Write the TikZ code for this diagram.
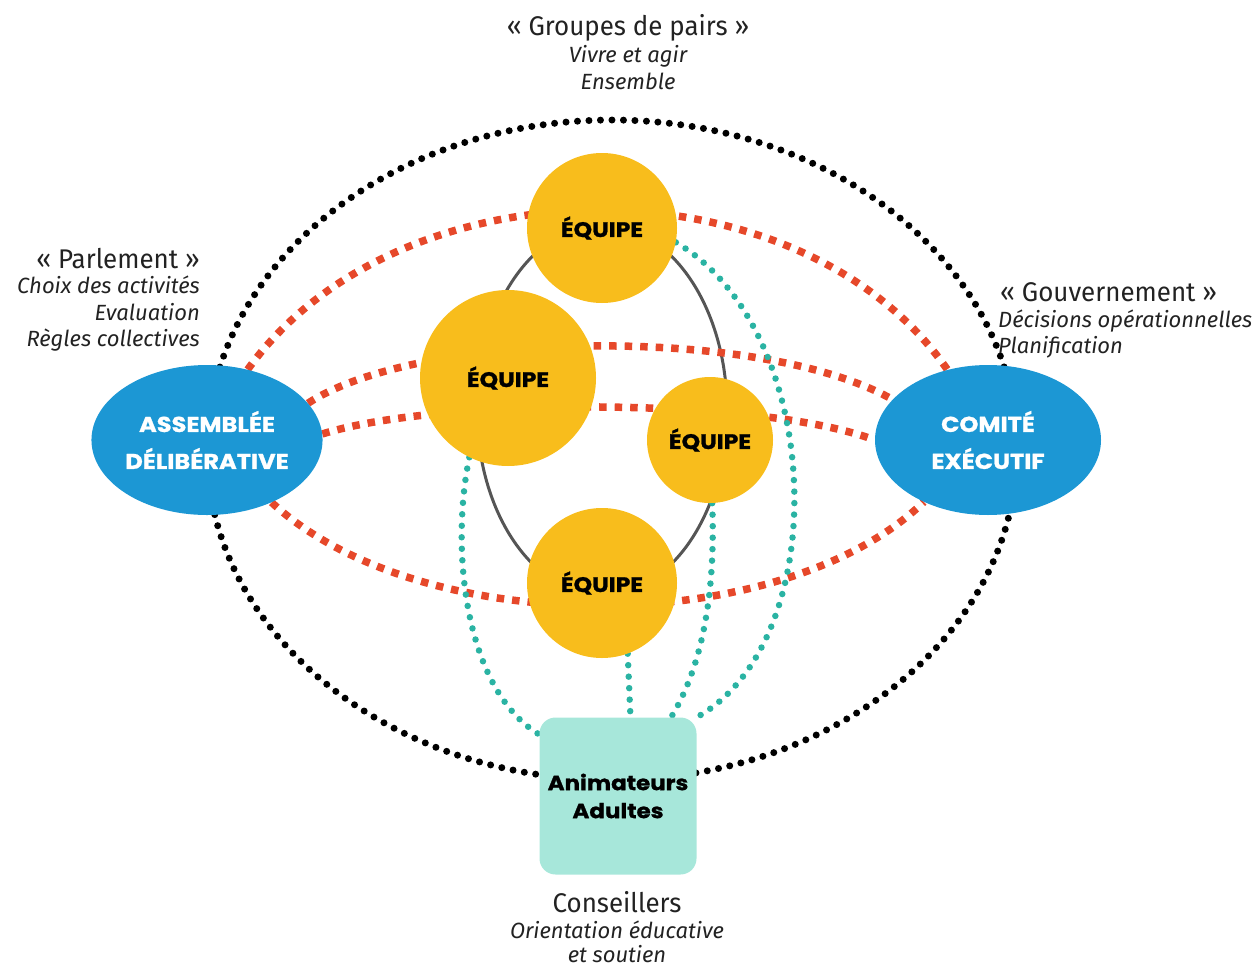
\documentclass[tikz,border=0pt]{standalone}
\usepackage{fontspec}
\setmainfont{Fira Sans}
\newfontfamily\lab{Fira Sans}[FakeStretch=0.96]
\newfontfamily\pop{Poppins}[FakeStretch=1.12,BoldFeatures={FakeBold=1.2}]
\usetikzlibrary{shapes.geometric}
\pgfdeclarelayer{bg}
\pgfsetlayers{bg,main}
\definecolor{yel}{HTML}{F8BD1C}
\definecolor{blu}{HTML}{1C97D4}
\definecolor{redd}{HTML}{E6482A}
\definecolor{tealc}{HTML}{2AB3A3}
\definecolor{mint}{HTML}{A7E7DA}
\definecolor{gry}{HTML}{555555}
\definecolor{txt}{HTML}{222222}
\begin{document}
\begin{tikzpicture}[x=1pt,y=-1pt,
 team/.style={circle,fill=yel,text=black,font=\pop\bfseries\fontsize{21}{24}\selectfont,inner sep=0},
 body/.style={ellipse,fill=blu,text=white,minimum width=226pt,minimum height=150pt,align=center,font=\pop\bfseries\fontsize{21.5}{37}\selectfont,inner sep=0},
 adult/.style={rectangle,rounded corners=16pt,fill=mint,minimum width=157pt,minimum height=157pt,align=center,font=\pop\bfseries\fontsize{20.5}{28}\selectfont},
 reddot/.style={draw=redd,line width=7.5pt,dash pattern=on 7.5pt off 8pt},
 tealdot/.style={draw=tealc,line width=6.5pt,line cap=round,dash pattern=on 0pt off 11.5pt},
 blackdot/.style={draw=black,line width=7pt,line cap=round,dash pattern=on 0pt off 11.5pt},
 head/.style={font=\lab\fontsize{27}{30}\selectfont,text=txt,inner sep=0},
 sub/.style={font=\itshape\fontsize{22}{26}\selectfont,text=txt,inner sep=0},
]
\useasboundingbox (0,0) rectangle (1260,966);

% nodes
\node[team,minimum size=150pt] (T) at (602,228) {ÉQUIPE};
\node[team,minimum size=176pt] (G) at (508,378) {ÉQUIPE};
\node[team,minimum size=126pt] (S) at (710,440) {ÉQUIPE};
\node[team,minimum size=150pt] (B) at (602,583) {ÉQUIPE};
\node[body] (L) at (207,440) {ASSEMBLÉE\\DÉLIBÉRATIVE};
\node[body] (R) at (988,440) {COMITÉ\\EXÉCUTIF};
\node[adult] (A) at (618,796) {Animateurs\\Adultes};

% texts
\node[head,anchor=base] (g1) at (628,36) {« Groupes de pairs »};
\node[sub,anchor=base] (g2) at (628,63) {Vivre et agir};
\node[sub,anchor=base] (g3) at (628,89) {Ensemble};
\node[head,anchor=base east] (p1) at (200,268) {« Parlement »};
\node[sub,anchor=base east] (p2) at (200,293) {Choix des activités};
\node[sub,anchor=base east] (p3) at (200,320) {Evaluation};
\node[sub,anchor=base east] (p4) at (200,346) {Règles collectives};
\node[head,anchor=base west] (v1) at (1000,301) {« Gouvernement »};
\node[sub,anchor=base west] (v2) at (998,327) {Décisions opérationnelles};
\node[sub,anchor=base west] (v3) at (998,353) {Planification};
\node[head,anchor=base] (c1) at (617,912) {Conseillers};
\node[sub,anchor=base] (c2) at (617,938) {Orientation éducative};
\node[sub,anchor=base] (c3) at (617,962) {et soutien};

\begin{pgfonlayer}{bg}
\draw[blackdot] (612,450) ellipse [x radius=405, y radius=330];
\draw[gry,line width=3pt] (602,410) ellipse [x radius=125, y radius=185];
% red links
\draw[reddot] (L.60) .. controls (400,157) and (800,157) .. (R.120);
\draw[reddot] (L.20) .. controls (420,330) and (760,325) .. (R.157);
\draw[reddot] (L.3) .. controls (440,397) and (760,397) .. (R.180);
\draw[reddot] (L.-44) .. controls (420,640) and (780,640) .. (R.-136);
% teal links
\draw[tealdot] (T.-11) .. controls (825,330) and (835,640) .. (A.north east);
\draw[tealdot] (S.-88) .. controls (716,600) and (700,670) .. (A.56);
\draw[tealdot] (B.-70) -- (A.81);
\draw[tealdot] (G.-116) .. controls (450,550) and (465,690) .. (A.142);
\end{pgfonlayer}
\end{tikzpicture}
\end{document}
